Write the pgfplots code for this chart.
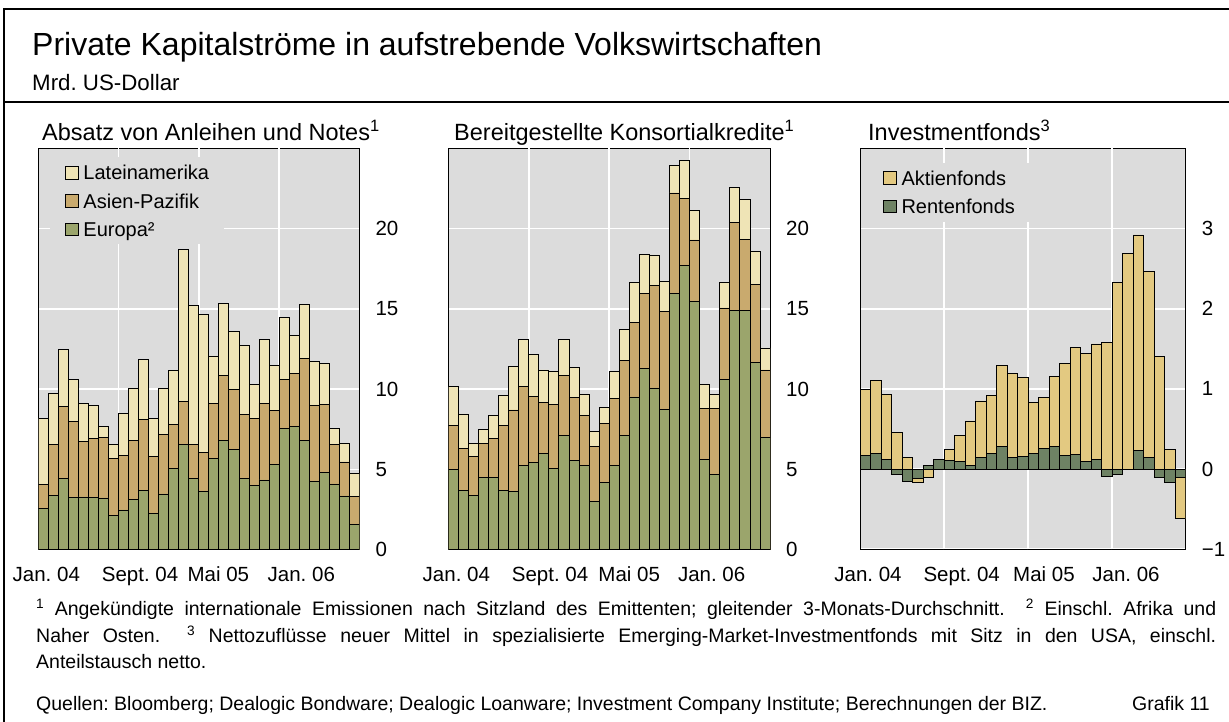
\documentclass[border=0pt]{standalone}
\usepackage{fontspec}
\setmainfont{Liberation Sans}
\usepackage{pgfplots}
\usepackage{pgfplotstable}
\pgfplotsset{compat=1.18}
\frenchspacing
\definecolor{bg}{HTML}{DCDCDC}
\definecolor{lat}{HTML}{EFE4B6}
\definecolor{asi}{HTML}{C9AA6E}
\definecolor{eur}{HTML}{9BA56C}
\definecolor{akt}{HTML}{E3C981}
\definecolor{ren}{HTML}{6E8264}

\pgfplotstableread{
i lat asi eur
0 8.18 4.06 2.55
1 9.73 6.54 3.37
2 12.50 8.90 4.47
3 10.58 7.99 3.27
4 9.13 6.75 3.29
5 8.96 6.94 3.25
6 7.70 7.02 3.23
7 6.58 5.69 2.15
8 8.49 5.90 2.48
9 10.08 6.83 3.15
10 11.86 8.14 3.71
11 8.18 5.80 2.28
12 10.08 7.16 3.48
13 11.14 7.83 5.07
14 18.70 9.23 6.54
15 15.22 6.54 4.47
16 14.68 6.05 3.66
17 12.07 9.11 5.69
18 15.34 10.85 6.81
19 13.58 10.00 6.23
20 12.73 8.41 4.43
21 10.29 8.20 3.98
22 13.08 9.11 4.35
23 11.49 8.65 5.34
24 14.49 10.58 7.56
25 13.33 10.97 7.66
26 15.26 11.93 6.79
27 11.70 9.01 4.24
28 11.59 9.07 4.80
29 7.54 6.56 4.10
30 6.63 5.47 3.35
31 4.74 3.31 1.57
}\bonds

\pgfplotstableread{
i lat asi eur
0 10.15 7.72 5.00
1 8.46 6.31 3.67
2 6.62 5.81 3.36
3 7.47 6.60 4.50
4 8.34 6.91 4.48
5 9.63 7.72 3.69
6 11.43 8.71 3.65
7 13.07 10.15 5.25
8 12.14 9.56 5.46
9 11.20 9.15 5.98
10 11.08 9.07 5.04
11 13.07 10.85 7.10
12 11.35 9.46 5.54
13 9.69 8.34 5.23
14 7.37 6.41 3.01
15 8.88 7.86 4.19
16 11.10 9.42 5.25
17 13.73 11.78 7.14
18 16.66 14.13 9.52
19 18.40 15.98 11.27
20 18.36 16.45 10.08
21 16.74 14.85 8.73
22 23.92 22.22 15.98
23 24.27 21.89 17.68
24 21.14 19.29 15.44
25 10.27 8.82 5.62
26 9.69 8.78 4.67
27 16.62 15.06 10.62
28 22.57 20.39 14.92
29 21.80 19.32 14.92
30 18.59 16.54 11.66
31 12.57 11.20 6.97
}\loans

\pgfplotstableread{
i akt ren
0 0.99 0.17
1 1.11 0.20
2 0.93 0.12
3 0.46 -0.07
4 0.15 -0.15
5 -0.16 -0.12
6 -0.10 0.04
7 0.00 0.12
8 0.25 0.11
9 0.42 0.09
10 0.60 0.05
11 0.85 0.15
12 0.92 0.19
13 1.29 0.28
14 1.19 0.14
15 1.14 0.16
16 0.83 0.19
17 0.89 0.26
18 1.15 0.28
19 1.32 0.17
20 1.52 0.18
21 1.44 0.095
22 1.56 0.12
23 1.58 -0.09
24 2.33 -0.06
25 2.69 0.00
26 2.92 0.23
27 2.47 0.145
28 1.41 -0.10
29 0.24 -0.17
30 -0.62 -0.10
}\funds

\pgfplotsset{
  panel/.style={
    scale only axis, ybar, bar shift=0pt, bar width=1,
    axis background/.style={fill=bg},
    axis line style={black, line width=0.8pt},
    major tick length=0pt, tick style={draw=none},
    ymajorgrids,
    major grid style={white, line width=1.8pt},
    yticklabel pos=right,
    tick label style={font=\fontsize{20.5}{24}\selectfont},
    yticklabel style={anchor=west, inner sep=0pt, xshift=16pt},
    xticklabel style={anchor=base, inner sep=0pt, yshift=-32pt},
    extra x ticks={7.5,15.5,23.5},
    extra x tick labels={},
    extra x tick style={grid=major},
    legend cell align=left,
    legend image code/.code={\draw[##1,draw=black,line width=0.8pt] (0pt,-6.25pt) rectangle (12.5pt,6.25pt);},
    legend style={draw=none, fill=bg, inner xsep=15pt, inner ysep=8pt,
      font=\fontsize{20}{24}\selectfont, row sep=13.9pt,
      nodes={inner sep=0pt, text depth=0pt},
      /tikz/every odd column/.style={column sep=5pt}},
    bar/.style={draw=black, line width=0.8pt},
  }
}

\begin{document}
\begin{tikzpicture}
\useasboundingbox (0pt,0pt) rectangle (1229pt,722pt);
\draw[line width=2pt] (4pt,0pt) -- (4pt,713pt) -- (1229pt,713pt);
\draw[line width=2pt] (4pt,620pt) -- (1229pt,620pt);
\node[anchor=base west, inner sep=0pt, font=\fontsize{32}{38}\selectfont] at (32pt,666pt) {Private Kapitalströme in aufstrebende Volkswirtschaften};
\node[anchor=base west, inner sep=0pt, font=\fontsize{22.3}{26}\selectfont] at (32pt,631pt) {Mrd. US-Dollar};
\node[anchor=base west, inner sep=0pt, font=\fontsize{23.5}{27}\selectfont] at (42pt,581.3pt) {Absatz von Anleihen und Notes\textsuperscript{1}};
\node[anchor=base west, inner sep=0pt, font=\fontsize{23.5}{27}\selectfont] at (454pt,581.3pt) {Bereitgestellte Konsortialkredite\textsuperscript{1}};
\node[anchor=base west, inner sep=0pt, font=\fontsize{23.5}{27}\selectfont] at (868pt,581.3pt) {Investmentfonds\textsuperscript{3}};

\begin{axis}[panel, at={(38.3pt,172.2pt)}, anchor=south west,
  width=321pt, height=401.5pt,
  xmin=-0.5, xmax=31.5, ymin=0, ymax=25,
  ytick={0,5,10,15,20}, yticklabels={0,5,10,15,20},
  xtick={0.30,9.64,17.45,25.72},
  xticklabels={Jan. 04,Sept. 04,Mai 05,Jan. 06},
  legend style={at={(axis description cs:0.0364,0.9776)}, anchor=north west}]
\addplot[bar, fill=lat] table[x=i,y=lat]{\bonds};
\addplot[bar, fill=asi] table[x=i,y=asi]{\bonds};
\addplot[bar, fill=eur] table[x=i,y=eur]{\bonds};
\legend{Lateinamerika,Asien-Pazifik,Europa²}
\end{axis}

\begin{axis}[panel, at={(448.3pt,172.2pt)}, anchor=south west,
  width=321.7pt, height=401.5pt,
  xmin=-0.5, xmax=31.5, ymin=0, ymax=25,
  ytick={0,5,10,15,20}, yticklabels={0,5,10,15,20},
  xtick={0.30,9.62,17.5,25.7},
  xticklabels={Jan. 04,Sept. 04,Mai 05,Jan. 06}]
\addplot[bar, fill=lat] table[x=i,y=lat]{\loans};
\addplot[bar, fill=asi] table[x=i,y=asi]{\loans};
\addplot[bar, fill=eur] table[x=i,y=eur]{\loans};
\end{axis}

\begin{axis}[panel, at={(860pt,172.7pt)}, anchor=south west,
  width=325.7pt, height=401pt,
  xmin=-0.5, xmax=30.5, ymin=-1, ymax=4,
  ytick={-1,0,1,2,3}, yticklabels={−1,0,1,2,3},
  xtick={0.26,9.18,17.01,24.82},
  xticklabels={Jan. 04,Sept. 04,Mai 05,Jan. 06},
  legend style={at={(axis description cs:0.0246,0.9641)}, anchor=north west}]
\addplot[bar, fill=akt] table[x=i,y=akt]{\funds};
\addplot[bar, fill=ren] table[x=i,y=ren]{\funds};
\legend{Aktienfonds,Rentenfonds}
\end{axis}

\begin{scope}[every node/.style={anchor=base west, inner sep=0pt, font=\fontsize{19.5}{23}\selectfont}]
\node at (36pt,106pt) {\makebox[1180pt][s]{\textsuperscript{1} Angekündigte internationale Emissionen nach Sitzland des Emittenten; gleitender 3-Monats-Durchschnitt.\ \ \textsuperscript{2} Einschl. Afrika und}};
\node at (36pt,79pt) {\makebox[1180pt][s]{Naher Osten.\ \ \textsuperscript{3} Nettozuflüsse neuer Mittel in spezialisierte Emerging-Market-Investmentfonds mit Sitz in den USA, einschl.}};
\node at (36pt,53pt) {Anteilstausch netto.};
\node at (36pt,11pt) {Quellen: Bloomberg; Dealogic Bondware; Dealogic Loanware; Investment Company Institute; Berechnungen der BIZ.};
\node[anchor=base east] at (1210pt,11pt) {Grafik 11};
\end{scope}
\end{tikzpicture}
\end{document}
